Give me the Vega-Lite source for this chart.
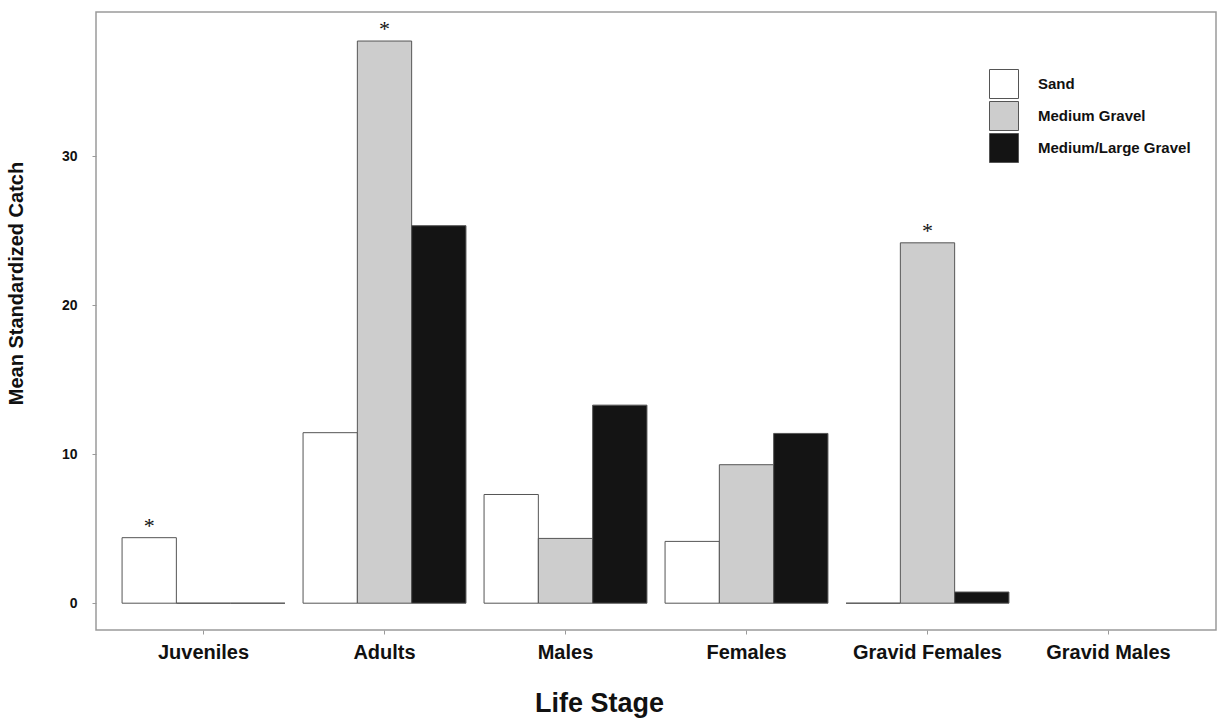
{
  "$schema": "https://vega.github.io/schema/vega-lite/v6.json",
  "width": 1120,
  "height": 618,
  "autosize": {"type": "none"},
  "padding": {"left": 96, "top": 12, "right": 2, "bottom": 90},
  "background": "white",
  "config": {
    "font": "Liberation Sans",
    "view": {"stroke": "#9a9a9a", "strokeWidth": 1.5}
  },
  "data": {
    "values": [
      {"stage": "Juveniles", "substrate": "Sand", "catch": 4.4, "sig": "*"},
      {"stage": "Juveniles", "substrate": "Medium Gravel", "catch": 0, "sig": ""},
      {"stage": "Juveniles", "substrate": "Medium/Large Gravel", "catch": 0, "sig": ""},
      {"stage": "Adults", "substrate": "Sand", "catch": 11.45, "sig": ""},
      {"stage": "Adults", "substrate": "Medium Gravel", "catch": 37.75, "sig": "*"},
      {"stage": "Adults", "substrate": "Medium/Large Gravel", "catch": 25.35, "sig": ""},
      {"stage": "Males", "substrate": "Sand", "catch": 7.3, "sig": ""},
      {"stage": "Males", "substrate": "Medium Gravel", "catch": 4.35, "sig": ""},
      {"stage": "Males", "substrate": "Medium/Large Gravel", "catch": 13.3, "sig": ""},
      {"stage": "Females", "substrate": "Sand", "catch": 4.15, "sig": ""},
      {"stage": "Females", "substrate": "Medium Gravel", "catch": 9.3, "sig": ""},
      {"stage": "Females", "substrate": "Medium/Large Gravel", "catch": 11.4, "sig": ""},
      {"stage": "Gravid Females", "substrate": "Sand", "catch": 0, "sig": ""},
      {"stage": "Gravid Females", "substrate": "Medium Gravel", "catch": 24.2, "sig": "*"},
      {"stage": "Gravid Females", "substrate": "Medium/Large Gravel", "catch": 0.75, "sig": ""}
    ]
  },
  "encoding": {
    "x": {
      "field": "stage",
      "type": "nominal",
      "sort": null,
      "scale": {
        "domain": ["Juveniles", "Adults", "Males", "Females", "Gravid Females", "Gravid Males"],
        "paddingInner": 0.1,
        "paddingOuter": 0.144
      },
      "axis": {
        "title": "Life Stage",
        "titleFontSize": 27,
        "titleFontWeight": "bold",
        "titleColor": "#111",
        "titlePadding": 28,
        "titleX": 503,
        "labelAngle": 0,
        "labelFontSize": 20,
        "labelFontWeight": "bold",
        "labelColor": "#111",
        "labelPadding": 8,
        "domain": false,
        "tickColor": "#9a9a9a",
        "tickSize": 4,
        "tickWidth": 1
      }
    },
    "xOffset": {
      "field": "substrate",
      "type": "nominal",
      "sort": ["Sand", "Medium Gravel", "Medium/Large Gravel"],
      "scale": {"paddingInner": 0, "paddingOuter": 0}
    },
    "y": {
      "field": "catch",
      "type": "quantitative",
      "scale": {"domain": [-1.8, 39.7], "nice": false, "zero": false},
      "axis": {
        "title": "Mean Standardized Catch",
        "titleFontSize": 20,
        "titleFontWeight": "bold",
        "titleColor": "#111",
        "titleY": 271,
        "titlePadding": 35,
        "values": [0, 10, 20, 30],
        "labelFontSize": 14,
        "labelFontWeight": "bold",
        "labelColor": "#111",
        "labelPadding": 15,
        "grid": false,
        "domain": false,
        "tickColor": "#9a9a9a",
        "tickSize": 4,
        "tickWidth": 1
      }
    }
  },
  "layer": [
    {
      "mark": {"type": "bar", "stroke": "#555555", "strokeWidth": 1},
      "encoding": {
        "y2": {"datum": 0},
        "fill": {
          "field": "substrate",
          "type": "nominal",
          "sort": ["Sand", "Medium Gravel", "Medium/Large Gravel"],
          "scale": {
            "domain": ["Sand", "Medium Gravel", "Medium/Large Gravel"],
            "range": ["#ffffff", "#cdcdcd", "#141414"]
          },
          "legend": {
            "title": null,
            "orient": "none",
            "legendX": 893,
            "legendY": 57,
            "padding": 0,
            "symbolType": "square",
            "symbolSize": 841,
            "symbolStrokeColor": "#555555",
            "symbolStrokeWidth": 1,
            "symbolOpacity": 1,
            "rowPadding": -5,
            "labelOffset": 19,
            "labelFontSize": 15,
            "labelFontWeight": "bold",
            "labelColor": "#111"
          }
        }
      }
    },
    {
      "mark": {"type": "text", "font": "Liberation Serif", "fontSize": 22, "baseline": "alphabetic", "dy": -5, "color": "#111"},
      "encoding": {
        "text": {"field": "sig"}
      }
    }
  ]
}
